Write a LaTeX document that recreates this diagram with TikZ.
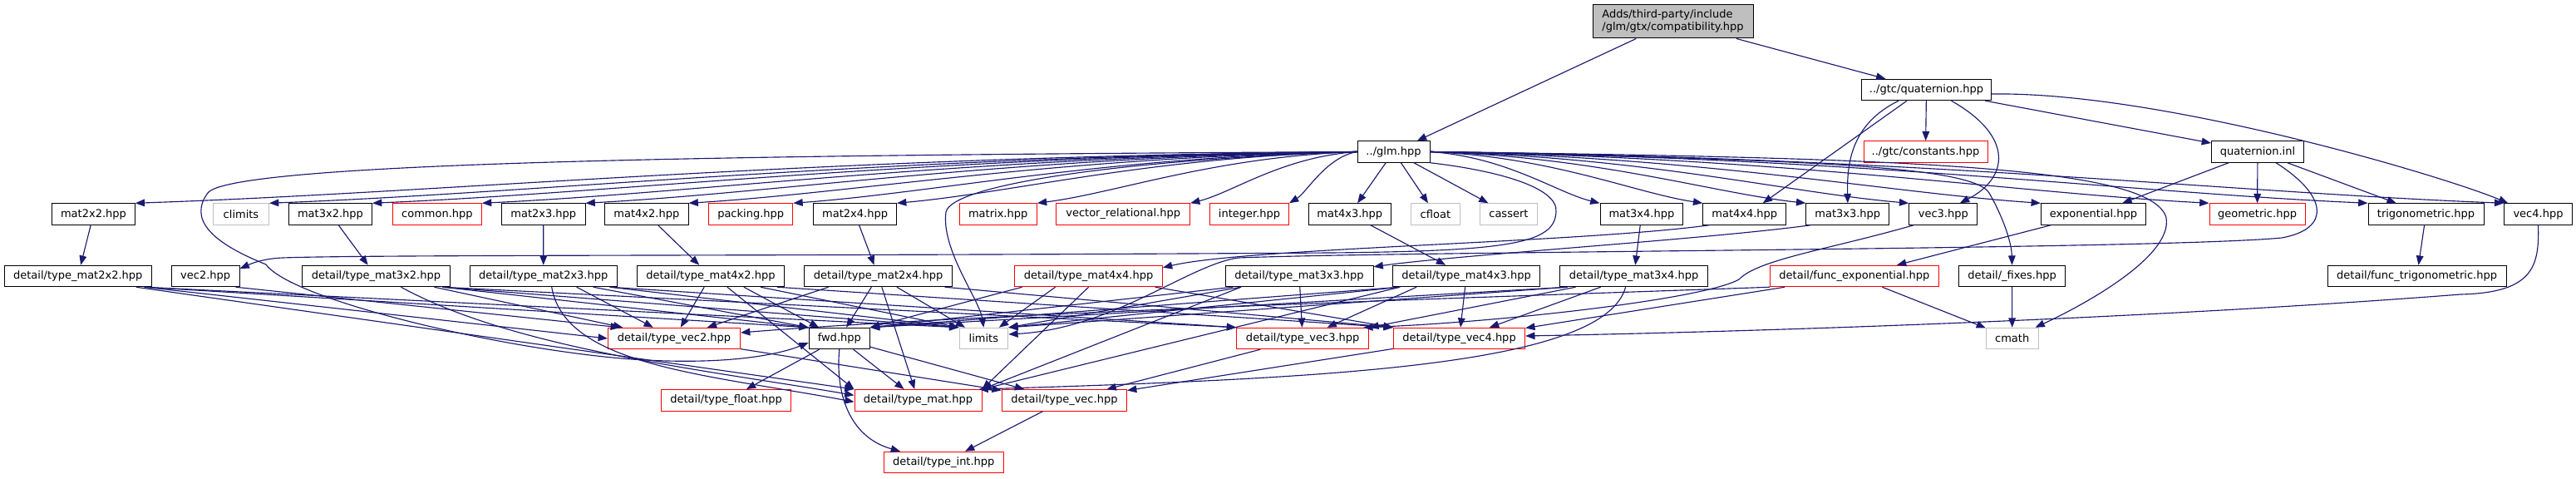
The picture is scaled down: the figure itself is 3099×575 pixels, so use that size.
\documentclass[tikz,border=0pt]{standalone}
\usepackage{fontspec}
\setmainfont{DejaVu Sans}
\usetikzlibrary{arrows.meta,calc}
\definecolor{edgec}{HTML}{191970}
\definecolor{grayb}{HTML}{BFBFBF}
\definecolor{redb}{HTML}{FF0000}
\tikzset{
 nd/.style={draw=black, line width=0.75pt, inner sep=0pt, minimum height=19.1pt,
   font=\fontsize{9.75pt}{11.25pt}\selectfont, text=black},
 redn/.style={nd, draw=redb},
 gryn/.style={nd, draw=grayb},
 rootn/.style={nd, fill=grayb},
 bw/.style={minimum width=#1*0.75pt},
 edg/.style={draw=edgec, line width=0.85pt, -{Triangle[length=8.5pt,width=6.5pt]}},
}
\newcommand\glmleft[1]{\draw[edg] let \p1=(glm.west), \p2=(#1.north east) in (\p1) .. controls ({\x1+0.45*((\x2)-(\x1))},{\y1+0.1*((\y2)-(\y1))}) and ({\x1+0.75*((\x2)-(\x1))},{\y1+0.8*((\y2)-(\y1))}) .. (\p2);}
\newcommand\glmright[1]{\draw[edg] let \p1=(glm.east), \p2=(#1.north west) in (\p1) .. controls ({\x1+0.45*((\x2)-(\x1))},{\y1+0.1*((\y2)-(\y1))}) and ({\x1+0.75*((\x2)-(\x1))},{\y1+0.8*((\y2)-(\y1))}) .. (\p2);}
\begin{document}
\begin{tikzpicture}[x=0.75pt,y=-0.75pt]
\useasboundingbox (0,0) rectangle (3099,575);
% ---- nodes
\node[rootn, bw=193, minimum height=30.2pt, align=left] (compat) at (2012.5,25.85) {Adds/third-party/include\\/glm/gtx/compatibility.hpp};
\node[nd, bw=156] (qhpp) at (2317.5,108) {../gtc/quaternion.hpp};
\node[nd, bw=87] (glm) at (1676.5,182.5) {../glm.hpp};
\node[redn, bw=149] (constants) at (2316.5,182.5) {../gtc/constants.hpp};
\node[nd, bw=111] (qinl) at (2716,182.5) {quaternion.inl};
% row 2
\node[nd, bw=99.4] (mat2x2) at (112.5,257.5) {mat2x2.hpp};
\node[gryn, bw=67] (climits) at (290,257.5) {climits};
\node[nd, bw=100] (mat3x2) at (397.5,257.5) {mat3x2.hpp};
\node[redn, bw=107] (common) at (525.9,257.5) {common.hpp};
\node[nd, bw=100.4] (mat2x3) at (653.8,257.5) {mat2x3.hpp};
\node[nd, bw=100.2] (mat4x2) at (777.9,257.5) {mat4x2.hpp};
\node[redn, bw=101.3] (packing) at (903.2,257.5) {packing.hpp};
\node[nd, bw=99.8] (mat2x4) at (1028.6,257.5) {mat2x4.hpp};
\node[redn, bw=93.3] (matrix) at (1200.7,257.5) {matrix.hpp};
\node[redn, bw=160.7] (vecrel) at (1351.2,257.5) {vector\_relational.hpp};
\node[redn, bw=95] (integer) at (1503,257.5) {integer.hpp};
\node[nd, bw=99] (mat4x3) at (1623.8,257.5) {mat4x3.hpp};
\node[gryn, bw=58.2] (cfloat) at (1726.9,257.5) {cfloat};
\node[gryn, bw=68.9] (cassert) at (1814.9,257.5) {cassert};
\node[nd, bw=99.8] (mat3x4) at (1974.9,257.5) {mat3x4.hpp};
\node[nd, bw=100] (mat4x4) at (2098.8,257.5) {mat4x4.hpp};
\node[nd, bw=100] (mat3x3) at (2222.8,257.5) {mat3x3.hpp};
\node[nd, bw=82.1] (vec3) at (2337.8,257.5) {vec3.hpp};
\node[nd, bw=126] (exponential) at (2518.4,257.5) {exponential.hpp};
\node[redn, bw=115] (geometric) at (2715.5,257.5) {geometric.hpp};
\node[nd, bw=139] (trig) at (2918.5,257.5) {trigonometric.hpp};
\node[nd, bw=81.5] (vec4) at (3053.5,257.5) {vec4.hpp};
% row 3
\node[nd, bw=177.5] (tmat2x2) at (93.8,332) {detail/type\_mat2x2.hpp};
\node[nd, bw=81.7] (vec2) at (247.2,332) {vec2.hpp};
\node[nd, bw=177.2] (tmat3x2) at (452.4,332) {detail/type\_mat3x2.hpp};
\node[nd, bw=177.3] (tmat2x3) at (653.7,332) {detail/type\_mat2x3.hpp};
\node[nd, bw=177.8] (tmat4x2) at (854.9,332) {detail/type\_mat4x2.hpp};
\node[nd, bw=177.6] (tmat2x4) at (1056.6,332) {detail/type\_mat2x4.hpp};
\node[redn, bw=177.6] (tmat4x4) at (1309.6,332) {detail/type\_mat4x4.hpp};
\node[nd, bw=178] (tmat3x3) at (1563,332) {detail/type\_mat3x3.hpp};
\node[nd, bw=177.6] (tmat4x3) at (1764.1,332) {detail/type\_mat4x3.hpp};
\node[nd, bw=177.6] (tmat3x4) at (1965.6,332) {detail/type\_mat3x4.hpp};
\node[redn, bw=203] (funcexp) at (2230.9,332) {detail/func\_exponential.hpp};
\node[nd, bw=128] (fixes) at (2420.5,332) {detail/\_fixes.hpp};
\node[nd, bw=215.2] (functrig) at (2907.6,332) {detail/func\_trigonometric.hpp};
% row 4
\node[redn, bw=159.1] (tvec2) at (811,407) {detail/type\_vec2.hpp};
\node[nd, bw=73] (fwd) at (1009.8,407) {fwd.hpp};
\node[gryn, bw=58.8] (limits) at (1183.4,407) {limits};
\node[redn, bw=159.1] (tvec3) at (1567.2,407) {detail/type\_vec3.hpp};
\node[redn, bw=158.3] (tvec4) at (1755.5,407) {detail/type\_vec4.hpp};
\node[gryn, bw=62.6] (cmath) at (2420.7,407) {cmath};
% row 5
\node[redn, bw=156.1] (tfloat) at (873.6,481.3) {detail/type\_float.hpp};
\node[redn, bw=153] (tmat) at (1104.5,481.3) {detail/type\_mat.hpp};
\node[redn, bw=150.2] (tvec) at (1280.4,481.3) {detail/type\_vec.hpp};
% row 6
\node[redn, bw=143.5] (tint) at (1135.3,556) {detail/type\_int.hpp};
% ---- edges: top
\draw[edg] (compat) -- (glm);
\draw[edg] (compat) -- (qhpp);
\draw[edg] (qhpp) -- (constants);
\draw[edg] (qhpp) -- (qinl);
\draw[edg] ($(qhpp.south west)+(55,0)$) -- ($(mat4x4.north)+(22,0)$);
\draw[edg] ($(qhpp.south west)+(45,0)$) .. controls (2225,150) and (2222,200) .. (mat3x3.north);
\draw[edg] ($(qhpp.south)+(30,0)$) .. controls (2425,165) and (2415,215) .. ($(vec3.north)+(20,0)$);
\draw[edg] ($(qhpp.east)+(0,5)$) .. controls (2600,110) and (2940,212) .. ($(vec4.north west)+(5,0)$);
\draw[edg] (qinl) -- (exponential);
\draw[edg] (qinl) -- (geometric);
\draw[edg] (qinl) -- (trig);
\draw[edg] ($(qinl.south)+(22,0)$) .. controls (2800,235) and (2805,275) .. (2745,286) .. controls (2600,300) and (1700,302) .. (1490,310) .. controls (1430,318) and (1340,395) .. ($(limits.east)+(0,-5)$);
% glm fan
\glmleft{mat2x2}
\glmleft{climits}
\glmleft{mat3x2}
\glmleft{common}
\glmleft{mat2x3}
\glmleft{mat4x2}
\glmleft{packing}
\glmleft{mat2x4}
\glmleft{matrix}
\glmleft{vecrel}
\glmleft{integer}
\draw[edg] (glm) -- (mat4x3);
\draw[edg] (glm) -- (cfloat);
\draw[edg] (glm) -- (cassert);
\glmright{mat3x4}
\glmright{mat4x4}
\glmright{mat3x3}
\glmright{vec3}
\glmright{exponential}
\glmright{geometric}
\glmright{trig}
\glmright{vec4}
\draw[edg] (glm.south east) .. controls (1800,205) and (1875,225) .. (1872,255) .. controls (1870,292) and (1820,302) .. (1600,304) .. controls (1000,308) and (450,306) .. (340,310) .. controls (315,311) and (300,318) .. ($(vec2.east)+(0,-9)$);
\draw[edg] (glm.west) .. controls (1000,186) and (280,192) .. (250,232) .. controls (228,262) and (250,290) .. (320,318) .. controls (350,360) and (600,420) .. (760,432) .. controls (880,440) and (940,425) .. ($(fwd.west)+(0,5)$);
\draw[edg] (glm.west) .. controls (1350,192) and (1145,222) .. (1138,255) .. controls (1132,300) and (1178,360) .. (limits.north);
\draw[edg] (glm.east) .. controls (2150,192) and (2372,198) .. (2393,232) .. controls (2408,258) and (2420,290) .. (fixes.north);
\draw[edg] (glm.east) .. controls (2300,190) and (2590,200) .. (2606,262) .. controls (2614,310) and (2500,370) .. ($(cmath.north east)+(-4,0)$);
% row 2 -> row 3
\draw[edg] (mat2x2) -- (tmat2x2);
\draw[edg] (mat3x2) -- (tmat3x2);
\draw[edg] (mat2x3) -- (tmat2x3);
\draw[edg] (mat4x2) -- (tmat4x2);
\draw[edg] (mat2x4) -- (tmat2x4);
\draw[edg] (mat4x3) -- (tmat4x3);
\draw[edg] (mat3x4) -- (tmat3x4);
\draw[edg] ($(mat4x4.south west)+(8,0)$) .. controls (1900,292) and (1500,298) .. ($(tmat4x4.north east)+(0,3)$);
\draw[edg] ($(mat3x3.south west)+(6,0)$) .. controls (2050,288) and (1760,306) .. ($(tmat3x3.north east)+(0,2)$);
\draw[edg] ($(vec3.south west)+(6,0)$) .. controls (2200,300) and (2115,312) .. (2092,336) .. controls (2050,360) and (1800,388) .. ($(tvec3.north east)+(-7,0)$);
\draw[edg] (vec4.south) .. controls (3055,320) and (3048,352) .. (2960,354) .. controls (2600,382) and (2150,398) .. ($(tvec4.east)+(0,-3)$);
\draw[edg] (exponential) -- (funcexp);
\draw[edg] (trig) -- (functrig);
\draw[edg] ($(vec2.south east)+(-5,0)$) -- ($(tvec2.north west)+(15,0)$);
% func_exponential, fixes
\draw[edg] (funcexp) -- (tvec4);
\draw[edg] (funcexp) -- (cmath);
\draw[edg] (funcexp.south west) .. controls (1950,352) and (1200,375) .. ($(tvec2.east)+(0,-7)$);
\draw[edg] (fixes) -- (cmath);
% tmat2x2
\draw[edg] ($(tmat2x2.south)+(80,0)$) -- (fwd.north west);
\draw[edg] ($(tmat2x2.south)+(80,0)$) -- (tvec2.west);
\draw[edg] ($(tmat2x2.south)+(70,0)$) -- (tmat.north west);
\draw[edg] ($(tmat2x2.south)+(80,0)$) -- (limits.north west);
% tmat3x2
\draw[edg] ($(tmat3x2.south)+(80,0)$) -- (fwd.north west);
\draw[edg] ($(tmat3x2.south)+(70,0)$) -- (tvec2);
\draw[edg] ($(tmat3x2.south)+(80,0)$) -- (tvec3.north west);
\draw[edg] ($(tmat3x2.south)+(30,0)$) .. controls (620,420) and (850,445) .. ($(tmat.west)+(0,-6)$);
\draw[edg] ($(tmat3x2.south)+(80,0)$) -- (limits.north west);
% tmat2x3
\draw[edg] ($(tmat2x3.south)+(60,0)$) -- (fwd.north west);
\draw[edg] ($(tmat2x3.south)+(40,0)$) -- (tvec2);
\draw[edg] ($(tmat2x3.south)+(80,0)$) -- (tvec3.north west);
\draw[edg] ($(tmat2x3.south)+(10,0)$) .. controls (680,440) and (850,450) .. ($(tmat.west)+(0,2)$);
\draw[edg] ($(tmat2x3.south)+(80,0)$) -- (limits.north west);
% tmat4x2
\draw[edg] ($(tmat4x2.south)+(40,0)$) -- (fwd);
\draw[edg] (tmat4x2) -- (tvec2);
\draw[edg] ($(tmat4x2.south)+(80,0)$) -- (tvec4.north west);
\draw[edg] ($(tmat4x2.south)+(20,0)$) -- (tmat.north west);
\draw[edg] ($(tmat4x2.south)+(60,0)$) -- (limits.north west);
% tmat2x4
\draw[edg] (tmat2x4) -- (fwd);
\draw[edg] ($(tmat2x4.south)+(-60,0)$) -- (tvec2);
\draw[edg] ($(tmat2x4.south)+(80,0)$) -- (tvec4.north west);
\draw[edg] (tmat2x4) -- (tmat);
\draw[edg] (tmat2x4) -- (limits);
% tmat4x4
\draw[edg] ($(tmat4x4.south)+(-80,0)$) -- (fwd.north east);
\draw[edg] ($(tmat4x4.south)+(80,0)$) -- (tvec4.north west);
\draw[edg] (tmat4x4.south) -- (tmat.north east);
\draw[edg] ($(tmat4x4.south)+(-40,0)$) -- (limits);
% tmat3x3
\draw[edg] ($(tmat3x3.south)+(-80,0)$) -- (fwd.north east);
\draw[edg] (tmat3x3) -- (tvec3);
\draw[edg] ($(tmat3x3.south)+(-70,0)$) -- (tmat.north east);
\draw[edg] ($(tmat3x3.south)+(-70,0)$) -- (limits.north east);
% tmat4x3
\draw[edg] ($(tmat4x3.south)+(-80,0)$) -- (fwd.north east);
\draw[edg] ($(tmat4x3.south)+(-60,0)$) -- (tvec3);
\draw[edg] (tmat4x3) -- (tvec4);
\draw[edg] ($(tmat4x3.south)+(-80,0)$) -- (tmat.north east);
\draw[edg] ($(tmat4x3.south)+(-80,0)$) -- (limits.north east);
% tmat3x4
\draw[edg] ($(tmat3x4.south)+(-80,0)$) -- (fwd.north east);
\draw[edg] ($(tmat3x4.south)+(-70,0)$) -- (tvec3.north east);
\draw[edg] ($(tmat3x4.south)+(-40,0)$) -- (tvec4);
\draw[edg] ($(tmat3x4.south)+(-10,0)$) .. controls (1930,440) and (1600,455) .. ($(tmat.north east)+(-4,0)$);
\draw[edg] ($(tmat3x4.south)+(-80,0)$) -- (limits.north east);
% lower
\draw[edg] (fwd) -- (tfloat);
\draw[edg] (fwd) -- (tmat);
\draw[edg] (fwd) -- (tvec);
\draw[edg] (fwd.south) .. controls (1005,470) and (1020,525) .. ($(tint.north west)+(20,0)$);
\draw[edg] (tvec) -- (tint);
\draw[edg] (tvec2) -- (tvec);
\draw[edg] (tvec3) -- (tvec);
\draw[edg] (tvec4) -- (tvec);
\end{tikzpicture}
\end{document}
